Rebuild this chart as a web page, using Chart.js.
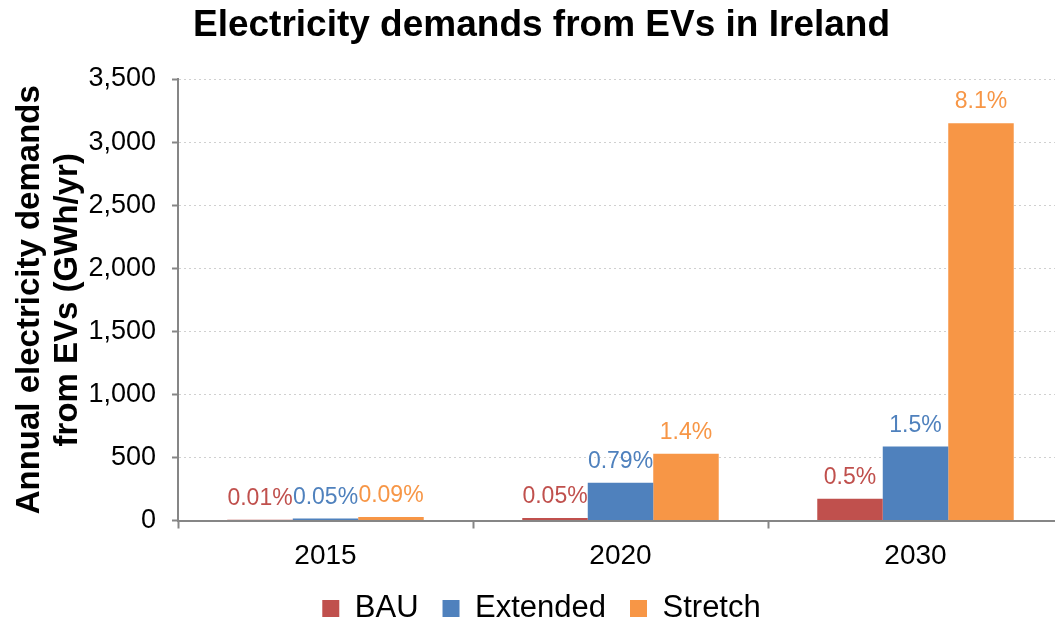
<!DOCTYPE html>
<html>
<head>
<meta charset="utf-8">
<title>Electricity demands from EVs in Ireland</title>
<script src="https://cdn.jsdelivr.net/npm/chart.js@4/dist/chart.umd.min.js"></script>
<style>
    html, body { margin: 0; padding: 0; background: #ffffff; overflow: hidden; }
    #wrap { width: 1055px; height: 624px; overflow: hidden; }
    canvas { display: block; }
</style>
</head>
<body>
<div id="wrap">
    <canvas id="evChart" width="1066" height="634"></canvas>
</div>
<script>
// Chart data (GWh/yr)
const years = ['2015', '2020', '2030'];
const bauValues = [6, 20, 172];
const extendedValues = [15, 300, 587];
const stretchValues = [27, 530, 3150];

// share of total electricity demand, shown above each bar
const bauShare = ['0.01%', '0.05%', '0.5%'];
const extendedShare = ['0.05%', '0.79%', '1.5%'];
const stretchShare = ['0.09%', '1.4%', '8.1%'];

const yTicks = [0, 500, 1000, 1500, 2000, 2500, 3000, 3500];

const FONT = "'Liberation Sans', Arial, sans-serif";
const AXIS_GREY = '#868686';

// draws the percentage labels above the bars
const shareLabels = {
    id: 'shareLabels',
    afterDatasetsDraw(chart) {
        const ctx = chart.ctx;
        ctx.save();
        ctx.font = '23px ' + FONT;
        ctx.textAlign = 'center';
        ctx.textBaseline = 'middle';
        chart.data.datasets.forEach(function(ds, i) {
            const meta = chart.getDatasetMeta(i);
            meta.data.forEach(function(bar, j) {
                ctx.fillStyle = ds.backgroundColor;
                ctx.fillText(ds.shares[j], bar.x, bar.y - 21);
            });
        });
        ctx.restore();
    }
};

const ctx = document.getElementById('evChart').getContext('2d');
const evChart = new Chart(ctx, {
    type: 'bar',
    data: {
        labels: years,
        datasets: [{
            label: 'BAU',
            data: bauValues,
            shares: bauShare,
            backgroundColor: '#C0504D'
        }, {
            label: 'Extended',
            data: extendedValues,
            shares: extendedShare,
            backgroundColor: '#4F81BD'
        }, {
            label: 'Stretch',
            data: stretchValues,
            shares: stretchShare,
            backgroundColor: '#F79646'
        }]
    },
    options: {
        responsive: false,
        animation: false,
        categoryPercentage: 0.666,
        barPercentage: 1.0,
        layout: {
            padding: { left: 20, right: 3, top: 0, bottom: 0 }
        },
        plugins: {
            title: {
                display: true,
                text: 'Electricity demands from EVs in Ireland',
                color: '#000000',
                font: { family: FONT, size: 37, weight: 'bold', lineHeight: 1.2 },
                padding: { top: 4, bottom: 30.6 }
            },
            legend: {
                position: 'bottom',
                labels: {
                    color: '#000000',
                    font: { family: FONT, size: 31 },
                    boxWidth: 17,
                    boxHeight: 17,
                    padding: 24
                }
            },
            tooltip: { enabled: false }
        },
        scales: {
            x: {
                offset: true,
                afterFit: function(scale) {
                    scale.height = 48.5;
                },
                grid: {
                    display: true,
                    offset: true,
                    drawOnChartArea: false,
                    drawTicks: true,
                    tickLength: 8,
                    tickColor: AXIS_GREY,
                    tickWidth: 2
                },
                border: { display: true, color: AXIS_GREY, width: 2 },
                ticks: {
                    color: '#000000',
                    font: { family: FONT, size: 28 },
                    padding: 10.5
                }
            },
            y: {
                min: 0,
                max: 3500,
                afterBuildTicks: function(scale) {
                    scale.ticks = yTicks.map(v => ({ value: v }));
                },
                afterFit: function(scale) {
                    scale.width = 158;
                },
                grid: {
                    color: '#D0D0D0',
                    lineWidth: 1,
                    drawTicks: true,
                    tickLength: 6,
                    tickColor: AXIS_GREY,
                    tickWidth: 2,
                    tickBorderDash: []
                },
                border: { display: true, color: AXIS_GREY, width: 2, dash: [2, 3] },
                ticks: {
                    color: '#000000',
                    font: { family: FONT, size: 27 },
                    padding: 16,
                    callback: function(value) {
                        return value.toLocaleString('en-US');
                    }
                },
                title: {
                    display: true,
                    text: ['Annual electricity demands', 'from EVs (GWh/yr)'],
                    color: '#000000',
                    font: { family: FONT, size: 33, weight: 'bold', lineHeight: 1.15 },
                    padding: { top: -9, bottom: 0 }
                }
            }
        }
    },
    plugins: [shareLabels]
});
</script>
</body>
</html>
